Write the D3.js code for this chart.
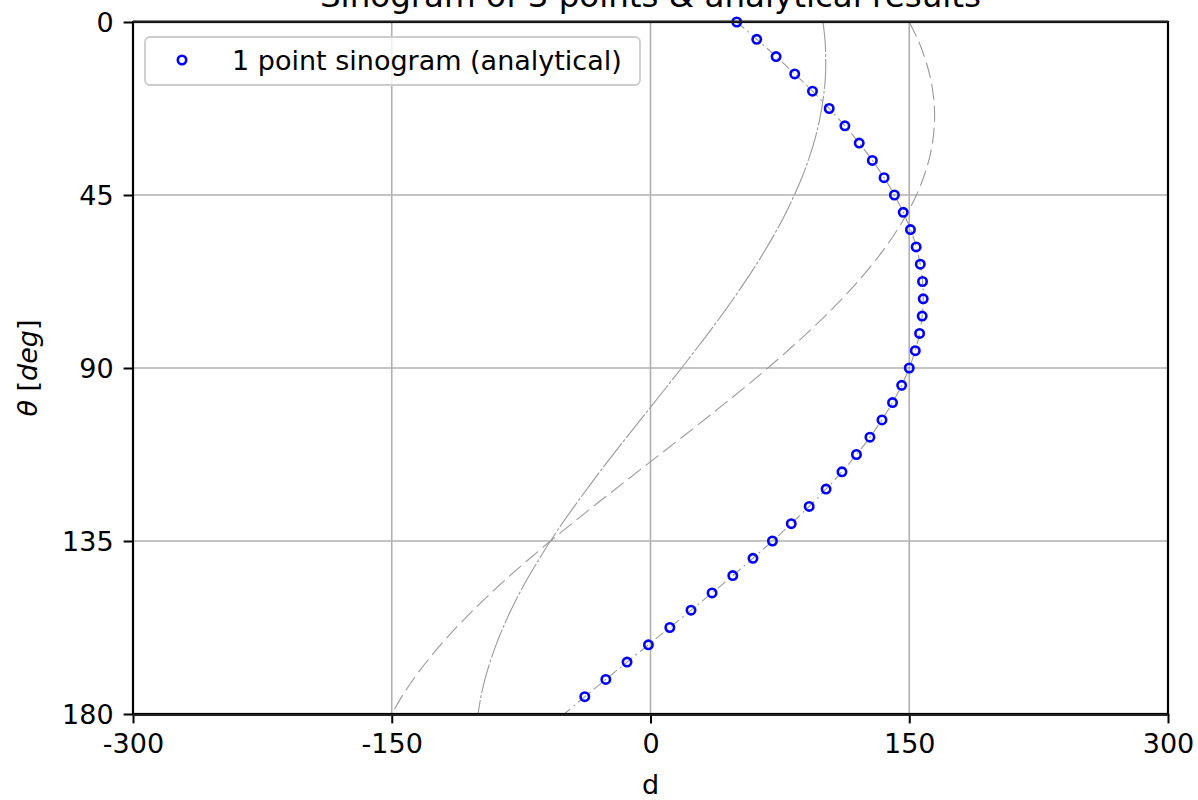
<!DOCTYPE html>
<html>
<head>
<meta charset="utf-8">
<script src="https://cdn.jsdelivr.net/npm/d3@7"></script>
<style>
  body { margin: 0; background: #fff; }
  text { font-family: "DejaVu Sans", sans-serif; fill: #000; }
</style>
</head>
<body>
<div id="chart"></div>
<script>
// angles of the analytical samples (deg) and the d values
const sampleAngles = [0, 4.5, 9, 13.5, 18, 22.5, 27, 31.5, 36, 40.5, 45, 49.5, 54, 58.5, 63, 67.5, 72, 76.5, 81, 85.5,
  90, 94.5, 99, 103.5, 108, 112.5, 117, 121.5, 126, 130.5, 135, 139.5, 144, 148.5, 153, 157.5, 162, 166.5, 171, 175.5];
const sampleD = [50, 61.6, 72.8, 83.6, 93.9, 103.6, 112.7, 121.0, 128.6, 135.4, 141.4, 146.5, 150.7, 154.0, 156.4, 157.7, 158.1, 157.5, 156.0, 153.5,
  150, 145.6, 140.3, 134.2, 127.2, 119.4, 111.0, 101.8, 92.0, 81.6, 70.7, 59.4, 47.7, 35.7, 23.5, 11.2, -1.2, -13.6, -25.9, -38.1];

// sinogram curves (grey lines), one value per 5 deg from 0 to 180
const curveAngles = [0, 5, 10, 15, 20, 25, 30, 35, 40, 45, 50, 55, 60, 65, 70, 75, 80, 85, 90,
  95, 100, 105, 110, 115, 120, 125, 130, 135, 140, 145, 150, 155, 160, 165, 170, 175, 180];
const curveA = [50, 62.9, 75.3, 87.1, 98.3, 108.7, 118.3, 127.0, 134.7, 141.4, 147.0, 151.6, 154.9, 157.1, 158.1, 157.8, 156.4, 153.8, 150,
  145.1, 139.0, 131.9, 123.9, 114.8, 104.9, 94.2, 82.8, 70.7, 58.1, 45.1, 31.7, 18.1, 4.3, -9.5, -23.2, -36.7, -50];
const curveB = [100, 101.2, 101.6, 101.3, 100.1, 98.2, 95.6, 92.2, 88.2, 83.4, 78.1, 72.1, 65.6, 58.6, 51.1, 43.3, 35.1, 26.6, 18,
  9.2, 0.4, -8.5, -17.3, -26.0, -34.4, -42.6, -50.5, -58.0, -65.0, -71.6, -77.6, -83.0, -87.8, -91.9, -95.4, -98.1, -100];
const curveC = [150, 155.4, 159.5, 162.5, 164.2, 164.7, 163.9, 161.9, 158.6, 154.2, 148.5, 141.7, 133.9, 125.0, 115.2, 104.5, 93.0, 80.8, 68,
  54.7, 40.9, 26.9, 12.6, -1.8, -16.1, -30.3, -44.3, -58.0, -71.2, -83.9, -95.9, -107.2, -117.7, -127.3, -135.9, -143.5, -150];

const xTicks = [-300, -150, 0, 150, 300];
const yTicks = [0, 45, 90, 135, 180];

const width = 1198, height = 800;
const margin = { top: 22, right: 30, bottom: 86, left: 133 };

const svg = d3.select("#chart").append("svg")
  .attr("width", width)
  .attr("height", height);

const x = d3.scaleLinear().domain([-300, 300]).range([margin.left, width - margin.right]);
const y = d3.scaleLinear().domain([0, 180]).range([margin.top, height - margin.bottom]);

// grid
svg.append("g").selectAll("line")
  .data(xTicks)
  .enter().append("line")
  .attr("x1", d => x(d)).attr("x2", d => x(d))
  .attr("y1", y(0)).attr("y2", y(180))
  .attr("stroke", "#b0b0b0").attr("stroke-width", 1.6);
svg.append("g").selectAll("line")
  .data(yTicks)
  .enter().append("line")
  .attr("x1", x(-300)).attr("x2", x(300))
  .attr("y1", d => y(d)).attr("y2", d => y(d))
  .attr("stroke", "#b0b0b0").attr("stroke-width", 1.6);

// grey sinogram lines
const line = d3.line()
  .x(d => x(d[1]))
  .y(d => y(d[0]))
  .curve(d3.curveCatmullRom);

const curves = [
  { values: curveA, dash: "10,4,2,4" },
  { values: curveB, dash: "30,2,3,2" },
  { values: curveC, dash: "16,6" }
];

svg.append("g").selectAll("path")
  .data(curves)
  .enter().append("path")
  .attr("d", c => line(curveAngles.map((a, i) => [a, c.values[i]])))
  .attr("fill", "none")
  .attr("stroke", "#9a9a9a")
  .attr("stroke-width", 1.1)
  .attr("stroke-dasharray", c => c.dash);

// analytical points
svg.append("g").selectAll("circle")
  .data(sampleAngles.map((a, i) => [a, sampleD[i]]))
  .enter().append("circle")
  .attr("cx", d => x(d[1]))
  .attr("cy", d => y(d[0]))
  .attr("r", 4.2)
  .attr("fill", "none")
  .attr("stroke", "#0000ff")
  .attr("stroke-width", 2.6);

// axes
const xAxis = d3.axisBottom(x).tickValues(xTicks).tickSize(9.4).tickPadding(10).tickFormat(d => String(d));
const yAxis = d3.axisLeft(y).tickValues(yTicks).tickSize(9.4).tickPadding(10).tickFormat(d => String(d));

const gx = svg.append("g")
  .attr("transform", `translate(0,${y(180)})`)
  .call(xAxis);
const gy = svg.append("g")
  .attr("transform", `translate(${x(-300)},0)`)
  .call(yAxis);

[gx, gy].forEach(g => {
  g.select(".domain").remove();
  g.selectAll(".tick line").attr("stroke", "#000").attr("stroke-width", 2);
  g.selectAll(".tick text")
    .style("font-family", "DejaVu Sans")
    .style("font-size", "27px")
    .attr("fill", "#000");
});
gy.selectAll(".tick text").attr("dy", "0.36em");
gx.selectAll(".tick text").attr("dy", "0.73em");

// frame
svg.append("rect")
  .attr("x", x(-300)).attr("y", y(0))
  .attr("width", x(300) - x(-300))
  .attr("height", y(180) - y(0))
  .attr("fill", "none")
  .attr("stroke", "#000")
  .attr("stroke-width", 2.2);
// heavier top and bottom edges, as in the original
[0, 180].forEach(v => {
  svg.append("line")
    .attr("x1", x(-300)).attr("x2", x(300))
    .attr("y1", y(v) + (v ? 1 : -0.5)).attr("y2", y(v) + (v ? 1 : -0.5))
    .attr("stroke", "#222").attr("stroke-width", 2.2);
});

// legend
const legend = svg.append("g");
legend.append("rect")
  .attr("x", 145).attr("y", 37)
  .attr("width", 495).attr("height", 48)
  .attr("rx", 5)
  .attr("fill", "#fff").attr("fill-opacity", 0.8)
  .attr("stroke", "#cccccc").attr("stroke-width", 1.8);
legend.append("circle")
  .attr("cx", 182).attr("cy", 60)
  .attr("r", 4.2)
  .attr("fill", "none")
  .attr("stroke", "#0000ff")
  .attr("stroke-width", 2.6);
legend.append("text")
  .attr("x", 232).attr("y", 70)
  .style("font-size", "27px")
  .text("1 point sinogram (analytical)");

// labels (title is clipped by the top edge in the original too)
svg.append("text")
  .attr("x", (x(-300) + x(300)) / 2)
  .attr("y", 7)
  .attr("text-anchor", "middle")
  .style("font-size", "32.5px")
  .text("Sinogram of 3 points & analytical results");

svg.append("text")
  .attr("x", (x(-300) + x(300)) / 2)
  .attr("y", 794)
  .attr("text-anchor", "middle")
  .style("font-size", "27px")
  .text("d");

const ylab = svg.append("text")
  .attr("transform", `translate(37,${(y(0) + y(180)) / 2}) rotate(-90)`)
  .attr("text-anchor", "middle")
  .style("font-size", "27px");
ylab.append("tspan").style("font-style", "italic").text("θ");
ylab.append("tspan").text(" [");
ylab.append("tspan").style("font-style", "italic").text("deg");
ylab.append("tspan").text("]");
</script>
</body>
</html>
